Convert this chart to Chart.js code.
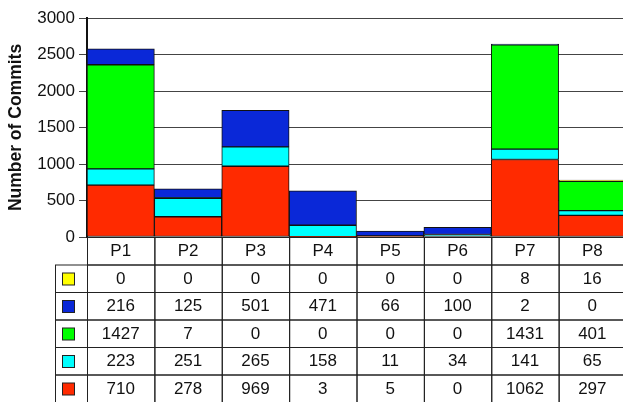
<!DOCTYPE html>
<html>
<head>
<meta charset="utf-8">
<script src="https://cdn.jsdelivr.net/npm/chart.js@4/dist/chart.umd.min.js"></script>
<style>
  html, body { margin: 0; padding: 0; background: #fff; overflow: hidden; }
  #wrap { width: 623px; height: 402px; overflow: hidden; }
</style>
</head>
<body>
<div id="wrap"><canvas id="commits" width="628" height="402"></canvas></div>
<script>
// projects and commit counts per category (stacked bottom -> top)
const projects = ['P1', 'P2', 'P3', 'P4', 'P5', 'P6', 'P7', 'P8'];
const redCommits    = [710, 278, 969, 3, 5, 0, 1062, 297];
const cyanCommits   = [223, 251, 265, 158, 11, 34, 141, 65];
const greenCommits  = [1427, 7, 0, 0, 0, 0, 1431, 401];
const blueCommits   = [216, 125, 501, 471, 66, 100, 2, 0];
const yellowCommits = [0, 0, 0, 0, 0, 0, 8, 16];

const FONT = 'Liberation Sans, Arial, sans-serif';
const ROW_H = 27.5;

const series = [
    { data: redCommits,    color: '#ff2a00' },
    { data: cyanCommits,   color: '#00ffff' },
    { data: greenCommits,  color: '#00ff00' },
    { data: blueCommits,   color: '#0a28d8' },
    { data: yellowCommits, color: '#ffff00' }
];

// data table under the plot, columns follow the x scale
const tablePlugin = {
    id: 'dataTable',
    afterDraw: function(chart) {
        const ctx = chart.ctx;
        const x = chart.scales.x;
        const area = chart.chartArea;
        const colW = (area.right - area.left) / projects.length;
        const top = area.bottom;
        const legendLeft = 55;

        ctx.save();
        ctx.strokeStyle = '#222';
        ctx.lineWidth = 1;
        ctx.fillStyle = '#111';
        ctx.font = '17px ' + FONT;
        ctx.textAlign = 'center';
        ctx.textBaseline = 'middle';

        // header row with project names
        projects.forEach((p, i) => {
            const cx = x.getPixelForValue(i);
            ctx.strokeRect(cx - colW / 2 + 0.5, top + 0.5, colW, ROW_H);
            ctx.fillText(p, cx, top + ROW_H / 2 + 1);
        });

        // value rows, top series first
        const rows = series.slice().reverse();
        rows.forEach((s, r) => {
            const y0 = top + ROW_H * (r + 1);
            ctx.strokeRect(legendLeft + 0.5, y0 + 0.5, area.left - legendLeft, ROW_H);
            ctx.fillStyle = s.color;
            ctx.fillRect(legendLeft + 7.5, y0 + 8.5, 12, 12);
            ctx.strokeRect(legendLeft + 7.5, y0 + 8.5, 12, 12);
            ctx.fillStyle = '#111';
            s.data.forEach((v, i) => {
                const cx = x.getPixelForValue(i);
                ctx.strokeRect(cx - colW / 2 + 0.5, y0 + 0.5, colW, ROW_H);
                ctx.fillText(String(v), cx, y0 + ROW_H / 2 + 1);
            });
        });
        ctx.restore();
    }
};

new Chart(document.getElementById('commits'), {
    type: 'bar',
    data: {
        labels: projects,
        datasets: series.map(s => ({
            data: s.data,
            backgroundColor: s.color,
            borderColor: '#111',
            borderWidth: 1,
            borderSkipped: false,
            barPercentage: 1,
            categoryPercentage: 1
        }))
    },
    options: {
        responsive: false,
        animation: false,
        layout: { padding: { top: 18, bottom: 165, right: 2, left: 0 } },
        plugins: { legend: { display: false }, tooltip: { enabled: false } },
        scales: {
            x: { stacked: true, display: false },
            y: {
                stacked: true,
                min: 0, max: 3000,
                ticks: {
                    stepSize: 500,
                    color: '#111',
                    font: { family: FONT, size: 17 },
                    padding: 4,
                    callback: v => String(v)
                },
                grid: { color: '#444', lineWidth: 1, tickLength: 8 },
                border: { color: '#111', width: 2 },
                title: {
                    display: true,
                    text: 'Number of Commits',
                    color: '#111',
                    font: { family: FONT, size: 17.5, weight: 'bold' },
                    padding: { top: 6, bottom: 2 }
                },
                afterFit: function(scale) { scale.width = 87; }
            }
        }
    },
    plugins: [tablePlugin]
});
</script>
</body>
</html>
